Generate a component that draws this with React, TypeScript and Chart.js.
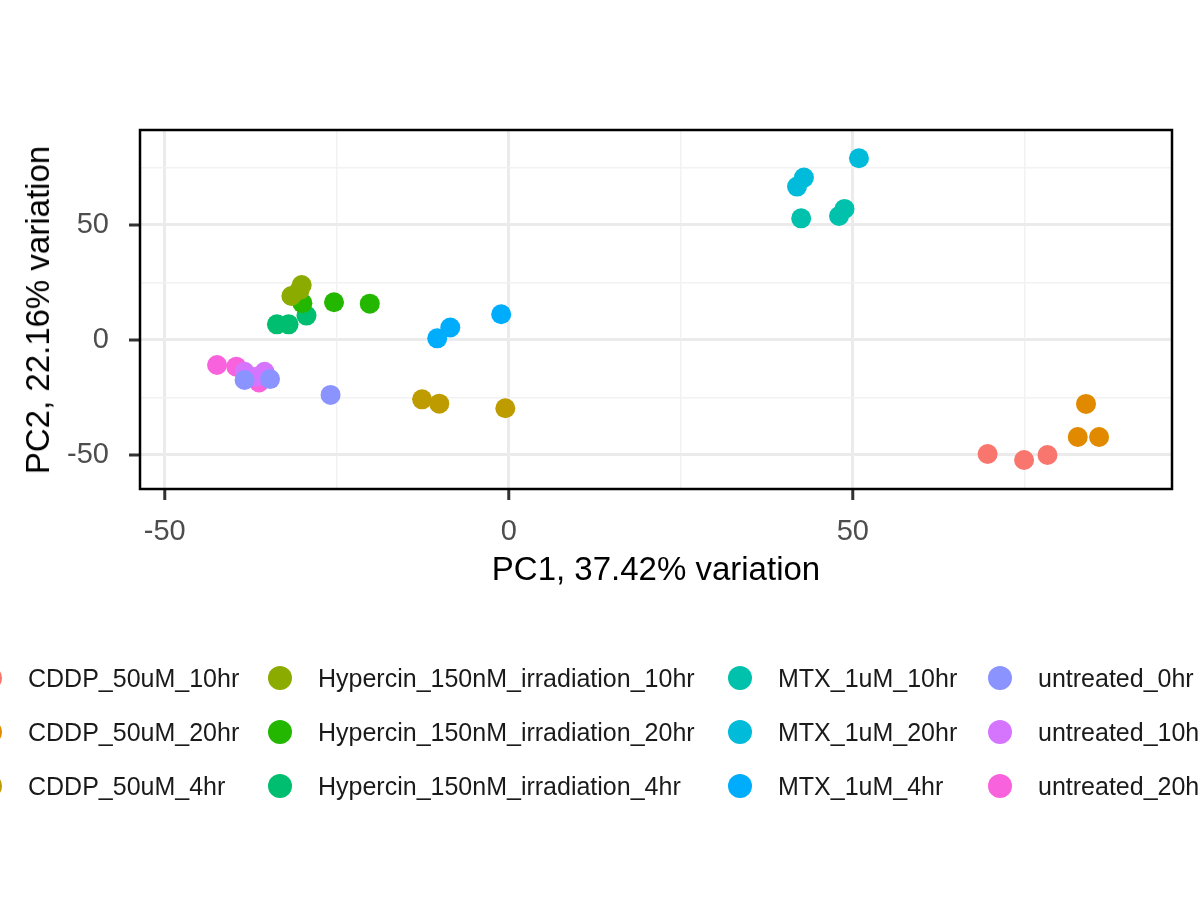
import React, { useEffect, useRef } from "react";
import { Chart, registerables } from "chart.js";
Chart.register(...registerables);

const groups = [
  "CDDP_50uM_10hr", "CDDP_50uM_20hr", "CDDP_50uM_4hr",
  "Hypercin_150nM_irradiation_10hr", "Hypercin_150nM_irradiation_20hr", "Hypercin_150nM_irradiation_4hr",
  "MTX_1uM_10hr", "MTX_1uM_20hr", "MTX_1uM_4hr",
  "untreated_0hr", "untreated_10hr", "untreated_20hr",
];
const colors = ["#F8766D", "#E18A00", "#BE9C00", "#8CAB00", "#24B700", "#00BE70",
  "#00C1AB", "#00BBDA", "#00ACFC", "#8B93FF", "#D575FE", "#F962DD"];
const pc1: number[][] = [
  [69.6, 74.9, 78.3], [83.9, 82.7, 85.8], [-12.6, -10.1, -0.5],
  [-30.1, -31.6, -30.4], [-30.0, -25.4, -20.2], [-33.7, -32.0, -29.4],
  [42.5, 48.0, 48.8], [50.9, 42.9, 41.9], [-10.4, -8.5, -1.1],
  [-25.9, -34.7, -38.4], [-38.4, -35.5, -36.7], [-42.4, -39.6, -36.3],
];
const pc2: number[][] = [
  [-49.6, -52.2, -50.0], [-27.8, -42.2, -42.2], [-25.8, -27.7, -29.7],
  [23.9, 19.1, 21.7], [16.0, 16.4, 15.8], [6.8, 6.8, 10.6],
  [52.9, 53.9, 57.0], [79.0, 70.6, 66.7], [0.7, 5.4, 11.2],
  [-23.9, -17.0, -17.4], [-13.8, -13.8, -16.0], [-10.9, -11.6, -18.5],
];
const xTicks = [-50, -25, 0, 25, 50, 75];
const yTicks = [-50, -25, 0, 25, 50, 75];

const FONT = "'Liberation Sans', Arial, sans-serif";

export default function App() {
  const ref = useRef<HTMLCanvasElement>(null);
  useEffect(() => {
    const major = (v: number) => v % 50 === 0;
    const frame = {
      id: "frame",
      afterDraw(c: any) {
        const { ctx, chartArea: a } = c;
        ctx.save();
        ctx.strokeStyle = "#333";
        ctx.lineWidth = 3;
        ctx.beginPath();
        xTicks.filter(major).forEach((v) => {
          const p = c.scales.x.getPixelForValue(v);
          ctx.moveTo(p, a.bottom); ctx.lineTo(p, a.bottom + 11);
        });
        yTicks.filter(major).forEach((v) => {
          const p = c.scales.y.getPixelForValue(v);
          ctx.moveTo(a.left, p); ctx.lineTo(a.left - 11, p);
        });
        ctx.stroke();
        ctx.strokeStyle = "#000";
        ctx.lineWidth = 2.5;
        ctx.strokeRect(a.left, a.top, a.right - a.left, a.bottom - a.top);
        ctx.restore();
      },
    };
    const grid = {
      color: (c: any) => (c.tick && major(c.tick.value) ? "#EBEBEB" : "#F2F2F2"),
      lineWidth: (c: any) => (c.tick && major(c.tick.value) ? 3 : 1.5),
      tickLength: 11,
      tickColor: "rgba(0,0,0,0)",
      drawTicks: true,
    };
    const chart = new Chart(ref.current!, {
      type: "scatter",
      data: {
        datasets: groups.map((g, i) => ({
          label: g,
          data: pc1[i].map((x, j) => ({ x, y: pc2[i][j] })),
          backgroundColor: colors[i],
          borderWidth: 0,
          pointRadius: 10,
        })),
      },
      options: {
        animation: false,
        responsive: false,
        layout: { padding: { top: 130, right: 28, left: 0, bottom: 0 } },
        plugins: { legend: { display: false }, tooltip: { enabled: false } },
        scales: {
          x: {
            min: -53.6, max: 96.4,
            afterBuildTicks: (s: any) => { s.ticks = xTicks.map((v) => ({ value: v })); },
            afterFit: (s: any) => { s.height = 411; },
            ticks: { color: "#4D4D4D", font: { size: 29, family: FONT }, padding: 15,
              callback: (v: any) => (major(Number(v)) ? String(v) : "") , maxRotation: 0, autoSkip: false },
            grid, border: { display: false },
          },
          y: {
            min: -64.8, max: 91.3,
            afterBuildTicks: (s: any) => { s.ticks = yTicks.map((v) => ({ value: v })); },
            afterFit: (s: any) => { s.width = 140; },
            ticks: { color: "#4D4D4D", font: { size: 29, family: FONT }, padding: 20,
              callback: (v: any) => (major(Number(v)) ? String(v) : ""), autoSkip: false },
            grid, border: { display: false },
          },
        },
      },
      plugins: [frame],
    });
    return () => chart.destroy();
  }, []);

  const cols = [-10, 280, 740, 1000];
  return (
    <div style={{ position: "fixed", left: 0, top: 0, width: 1200, height: 900, background: "#fff", overflow: "hidden", fontFamily: FONT }}>
      <canvas ref={ref} width={1200} height={900} style={{ position: "absolute", left: 0, top: 0 }} />
      <div style={{ position: "absolute", left: 140, width: 1032, top: 549, textAlign: "center", fontSize: 33, lineHeight: "40px", color: "#000" }}>
        PC1, 37.42% variation
      </div>
      <div style={{ position: "absolute", left: 38, top: 310, width: 0, height: 0 }}>
        <div style={{ position: "absolute", transform: "translate(-50%,-50%) rotate(-90deg)", whiteSpace: "nowrap", fontSize: 33, lineHeight: "40px", color: "#000" }}>
          PC2, 22.16% variation
        </div>
      </div>
      {groups.map((g, i) => {
        const col = Math.floor(i / 3), row = i % 3;
        const cx = cols[col], cy = 678 + row * 54;
        return (
          <div key={g}>
            <div style={{ position: "absolute", left: cx - 12, top: cy - 12, width: 24, height: 24, borderRadius: 12, background: colors[i] }} />
            <div style={{ position: "absolute", left: cx + 38, top: cy - 15, fontSize: 25, lineHeight: "30px", whiteSpace: "nowrap", color: "#1a1a1a" }}>{g}</div>
          </div>
        );
      })}
    </div>
  );
}
